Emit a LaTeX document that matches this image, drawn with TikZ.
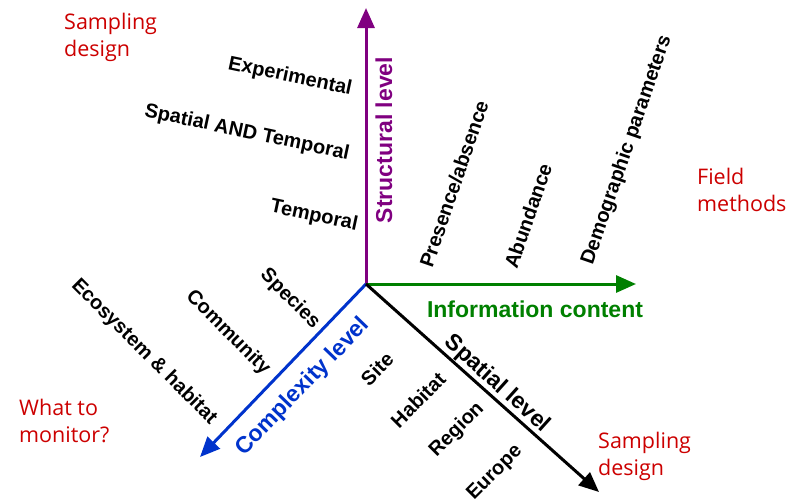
\documentclass[tikz,border=0pt]{standalone}
\usepackage{fontspec}
\setmainfont{Liberation Sans}
\newfontfamily\redfont{Open Sans}
\usetikzlibrary{arrows.meta}
\definecolor{axpurple}{RGB}{128,0,128}
\definecolor{axgreen}{RGB}{0,128,0}
\definecolor{axblue}{RGB}{0,51,204}
\definecolor{redtxt}{RGB}{204,0,0}
\tikzset{
  axis/.style={line width=3pt,-{Triangle[length=20pt,width=17pt]}},
  axlabel/.style={font=\fontsize{23}{26}\selectfont\bfseries,inner sep=0pt},
  item/.style={font=\fontsize{20}{24}\selectfont\bfseries,inner sep=0pt},
  note/.style={font=\redfont\fontsize{21.5}{27}\selectfont,text=redtxt,align=left,anchor=north west,inner sep=0pt}
}
\begin{document}
\begin{tikzpicture}[x=1pt,y=-1pt]
\useasboundingbox (0,0) rectangle (791,499);
\coordinate (O) at (366,284);
\coordinate (Ptip) at (366,8);
\coordinate (Gtip) at (636,284);
\coordinate (Btip) at (200,457);
\coordinate (Ktip) at (599,492);
\draw[axis,axpurple] (O) -- (Ptip);
\draw[axis,axgreen] (O) -- (Gtip);
\draw[axis,axblue] (O) -- (Btip);
\draw[axis,black] (O) -- (Ktip);

\node[axlabel,text=axpurple,rotate=90] (sl) at (384,140) {Structural level};
\node[axlabel,text=axgreen] (ic) at (535,309) {Information content};
\node[axlabel,text=axblue,rotate=46] (cl) at (303,387) {Complexity level};
\node[axlabel,text=black,rotate=-42] (spl) at (497,384) {Spatial level};

\node[item,rotate=-12] (exp) at (290,77) {Experimental};
\node[item,rotate=-12] (sat) at (247,133) {Spatial AND Temporal};
\node[item,rotate=-12] (tem) at (314,216) {Temporal};

\node[item,rotate=71] (pa) at (454,184) {Presence/absence};
\node[item,rotate=71] (ab) at (528,216) {Abundance};
\node[item,rotate=71] (dp) at (627,150) {Demographic parameters};

\node[item,rotate=-45] (sp) at (290,299) {Species};
\node[item,rotate=-45] (com) at (228,333) {Community};
\node[item,rotate=-45] (eco) at (144,352) {Ecosystem \& habitat};

\node[item,rotate=45] (site) at (377,369) {Site};
\node[item,rotate=45] (hab) at (418,400) {Habitat};
\node[item,rotate=45] (reg) at (457,430) {Region};
\node[item,rotate=45] (eur) at (495,473) {Europe};

\node[note] (sd1) at (64,13) {Sampling\\design};
\node[note] (fm) at (697,168) {Field\\methods};
\node[note] (wm) at (19,399) {What to\\monitor?};
\node[note] (sd2) at (598,432) {Sampling\\design};
\end{tikzpicture}
\end{document}
